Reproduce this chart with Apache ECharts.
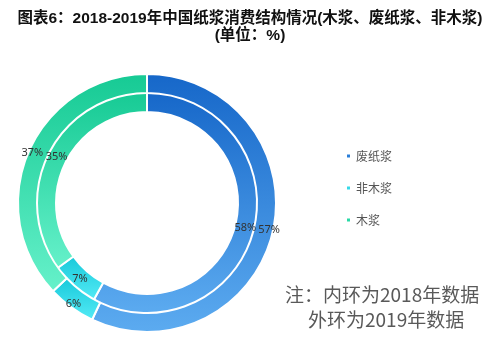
<!DOCTYPE html>
<html>
<head>
<meta charset="utf-8">
<script src="https://cdn.jsdelivr.net/npm/echarts@6/dist/echarts.min.js"></script>
<style>html,body{margin:0;padding:0;background:#fff;}#c{width:500px;height:356px;}</style>
</head>
<body>
<div id="c"></div>
<script>
var categories = ['废纸浆', '非木浆', '木浆'];
var values2018 = [58, 7, 35];   // inner ring
var values2019 = [57, 6, 37];   // outer ring
var titleLine1 = '图表6：2018-2019年中国纸浆消费结构情况(木浆、废纸浆、非木浆)';
var titleLine2 = '(单位：%)';
var noteLines = ['注：内环为2018年数据', '外环为2019年数据'];

var gradStops = [
  ['#1667c9', '#5cabf0'],
  ['#17c9da', '#55ebf6'],
  ['#16ca94', '#66f1ca']
];
function grad(i) {
  return new echarts.graphic.LinearGradient(0, 0, 0, 1, [
    {offset: 0, color: gradStops[i][0]},
    {offset: 1, color: gradStops[i][1]}
  ]);
}
function buildData(vals) {
  return categories.map(function (c, i) {
    return {name: c, value: vals[i], itemStyle: {color: grad(i)}};
  });
}
function buildPlainData(vals) {
  return categories.map(function (c, i) {
    return {name: c, value: vals[i]};
  });
}
var legendColors = ['#2a7ed8', '#36d9e8', '#2ad9a6'];

var chart = echarts.init(document.getElementById('c'), null, {renderer: 'canvas'});
var labelStyle = {
  show: true, position: 'inside', formatter: '{c}%',
  fontSize: 11, color: '#333', fontFamily: 'Noto Sans, sans-serif'
};
var titleFont = {fontSize: 15.5, fontWeight: 'bold', color: '#111', fontFamily: 'Liberation Sans, Noto Sans CJK SC, sans-serif'};
var noteFont = 'Noto Sans CJK SC, sans-serif';
var CENTER = [147, 203];

function ringSeries(name, radius, vals) {
  return {
    name: name, type: 'pie', center: CENTER, radius: radius,
    startAngle: 90, clockwise: true, avoidLabelOverlap: false,
    itemStyle: {borderColor: '#fff', borderWidth: 2},
    label: {show: false}, labelLine: {show: false},
    data: buildData(vals)
  };
}
function labelSeries(name, radius, vals) {
  return {
    name: name, type: 'pie', center: CENTER, radius: radius,
    startAngle: 90, clockwise: true, avoidLabelOverlap: false, silent: true,
    legendHoverLink: false,
    itemStyle: {color: 'rgba(0,0,0,0)', borderWidth: 0},
    emphasis: {disabled: true},
    label: labelStyle, labelLine: {show: false},
    labelLayout: {hideOverlap: false},
    data: buildPlainData(vals)
  };
}

chart.setOption({
  animation: false,
  title: [
    {text: titleLine1, left: 'center', top: 6, textStyle: titleFont},
    {text: titleLine2, left: 'center', top: 23, textStyle: titleFont}
  ],
  legend: {
    orient: 'vertical', left: 340, top: 145,
    itemWidth: 5, itemHeight: 5, itemGap: 20, icon: 'rect',
    textStyle: {fontSize: 12, color: '#555', fontFamily: 'Noto Sans CJK SC, sans-serif'},
    data: categories.map(function (c, i) { return {name: c, itemStyle: {color: legendColors[i]}}; })
  },
  graphic: [
    {type: 'text', left: 285, top: 285,
     style: {text: noteLines[0], fontSize: 19, fill: '#595959', fontFamily: noteFont}},
    {type: 'text', left: 308, top: 310,
     style: {text: noteLines[1], fontSize: 19, fill: '#595959', fontFamily: noteFont}}
  ],
  series: [
    ringSeries('2018', [91, 111], values2018),
    ringSeries('2019', [110, 129], values2019),
    labelSeries('2018标签', [91, 106], values2018),
    labelSeries('2019标签', [115, 129], values2019)
  ]
});
</script>
</body>
</html>
